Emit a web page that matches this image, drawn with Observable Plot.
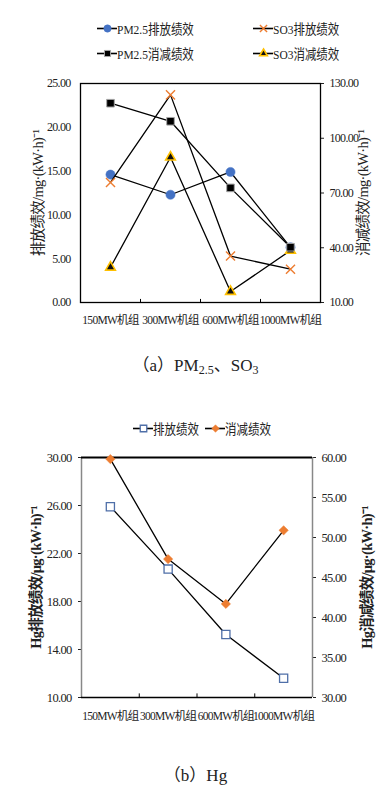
<!DOCTYPE html>
<html>
<head>
<meta charset="utf-8">
<script src="https://cdn.jsdelivr.net/npm/d3@7"></script>
<script src="https://cdn.jsdelivr.net/npm/@observablehq/plot@0.6"></script>
<style>
  html, body { margin: 0; padding: 0; background: #fff; }
  body { width: 391px; height: 802px; position: relative; overflow: hidden;
         font-family: "Liberation Serif", "Noto Sans CJK SC", serif; color: #222; }
  .abs { position: absolute; }
  .leg { position: absolute; display: flex; align-items: center; font-size: 13.5px; white-space: nowrap; }
  .leg span { display: inline-block; transform: scaleX(0.85); transform-origin: left center; }
  .cap { position: absolute; width: 391px; text-align: center; font-size: 17px; }
  .cap sub { font-size: 12px; vertical-align: -3px; }
</style>
</head>
<body>
<div id="legA1" class="leg" style="left:97px; top:18px;"></div>
<div id="legA2" class="leg" style="left:253px; top:18px;"></div>
<div id="legA3" class="leg" style="left:97px; top:43px;"></div>
<div id="legA4" class="leg" style="left:253px; top:43px;"></div>
<div id="chartA" class="abs" style="left:0; top:60px;"></div>
<div class="cap" style="top:351px;">（a）PM<sub>2.5</sub>、SO<sub>3</sub></div>
<div id="legB1" class="leg" style="left:133px; top:418px;"></div>
<div id="legB2" class="leg" style="left:205px; top:418px;"></div>
<div id="chartB" class="abs" style="left:0; top:430px;"></div>
<div class="cap" style="top:761px;">（b）Hg</div>
<script>
// ---------- data ----------
const categories = ["150MW机组", "300MW机组", "600MW机组", "1000MW机组"];

// chart (a) — left axis: 排放绩效 (mg/(kW·h)), right axis: 消减绩效
const pm25Emission  = [14.6, 12.3, 14.9, 6.3];
const so3Emission   = [13.7, 23.7, 5.3, 3.8];
const pm25Reduction = [119.2, 109.3, 72.8, 40.3];
const so3Reduction  = [29.3, 89.6, 16.0, 38.5];
const leftTicksA  = [0, 5, 10, 15, 20, 25];
const rightTicksA = [10, 40, 70, 100, 130];

// chart (b) — Hg
const hgEmission  = [25.9, 20.7, 15.25, 11.6];
const hgReduction = [59.8, 47.3, 41.7, 50.9];
const leftTicksB  = [10, 14, 18, 22, 26, 30];
const rightTicksB = [30, 35, 40, 45, 50, 55, 60];

const legendA = ["PM2.5排放绩效", "SO3排放绩效", "PM2.5消减绩效", "SO3消减绩效"];
const legendB = ["排放绩效", "消减绩效"];
const titlesA = ["排放绩效/mg·(kW·h)⁻¹", "消减绩效/mg·(kW·h)⁻¹"];
const titlesB = ["Hg排放绩效/μg·(kW·h)⁻¹", "Hg消减绩效/μg·(kW·h)⁻¹"];

// ---------- helpers ----------
const FONT = '"Liberation Serif", "Noto Sans CJK SC", serif';
const toRows = (vals, map = v => v) => vals.map((v, i) => ({x: i + 0.5, y: map(v)}));

const styles = {
  pm25E: {symbol: "circle", r: 4.6, fill: "#4472C4", stroke: "#4472C4", strokeWidth: 0.5},
  so3E:  {symbol: "times", r: 4.2, fill: "none", stroke: "#ED7D31", strokeWidth: 1.4},
  pm25R: {symbol: "square", r: 4.3, fill: "#000", stroke: "#A5A5A5", strokeWidth: 1},
  so3R:  {symbol: "triangle", r: 3.6, fill: "#111", stroke: "#FFC000", strokeWidth: 1.6},
  hgE:   {symbol: "square", r: 4.6, fill: "#fff", stroke: "#4F6FA8", strokeWidth: 1.3},
  hgR:   {symbol: "diamond2", r: 4.2, fill: "#ED7D31", stroke: "#ED7D31", strokeWidth: 0.5}
};

function legendItem(el, label, st) {
  const svg = Plot.plot({
    width: 20, height: 12, margin: 0,
    x: {domain: [0, 20], axis: null}, y: {domain: [0, 12], axis: null},
    marks: [
      Plot.ruleY([6], {x1: 0, x2: 20, stroke: "#000", strokeWidth: 1.6}),
      Plot.dot([{x: 10, y: 6}], {x: "x", y: "y", ...st, r: st.r * 0.8})
    ]
  });
  svg.style.overflow = "visible";
  const sp = document.createElement("span");
  sp.textContent = label;
  el.append(svg, sp);
}

legendItem(document.getElementById("legA1"), legendA[0], styles.pm25E);
legendItem(document.getElementById("legA2"), legendA[1], styles.so3E);
legendItem(document.getElementById("legA3"), legendA[2], styles.pm25R);
legendItem(document.getElementById("legA4"), legendA[3], styles.so3R);
legendItem(document.getElementById("legB1"), legendB[0], styles.hgE);
legendItem(document.getElementById("legB2"), legendB[1], styles.hgR);

function series(rows, st) {
  return [
    Plot.line(rows, {x: "x", y: "y", stroke: "#000", strokeWidth: 1.3}),
    Plot.dot(rows, {x: "x", y: "y", ...st})
  ];
}

const baseStyle = {fontFamily: FONT, fontSize: "12px", color: "#222", background: "transparent",
                   overflow: "visible", letterSpacing: "-0.7px"};

// ---------- chart (a) ----------
{
  const [lo, hi] = [10, 130], [L0, L1] = [0, 25];
  const toLeft = v => L0 + (v - lo) / (hi - lo) * (L1 - L0);
  const fromLeft = d => lo + (d - L0) / (L1 - L0) * (hi - lo);
  const chart = Plot.plot({
    width: 391, height: 280,
    marginTop: 23, marginBottom: 38, marginLeft: 80, marginRight: 71,
    style: baseStyle,
    x: {domain: [0, 4], axis: null},
    y: {domain: [L0, L1], axis: null},
    marks: [
      Plot.axisY(leftTicksA, {anchor: "left", tickSize: 0, tickPadding: 10, tickFormat: d => d.toFixed(2), label: null}),
      Plot.axisY(rightTicksA.map(toLeft), {anchor: "right", tickSize: 3, tickPadding: 6,
        tickFormat: d => fromLeft(d).toFixed(2), label: null}),
      Plot.axisX([0.5, 1.5, 2.5, 3.5], {anchor: "bottom", tickSize: 0, tickPadding: 13,
        tickFormat: d => categories[Math.floor(d)], label: null, fontSize: 11.5}),
      Plot.ruleX([1, 2, 3], {y1: 0, y2: 0.35, stroke: "#000", strokeWidth: 1}),
      Plot.frame({stroke: "#000", strokeWidth: 1.3}),
      Plot.text([titlesA[0]], {text: d => d, frameAnchor: "left", textAnchor: "middle", lineAnchor: "middle",
        rotate: -90, dx: -42, fontSize: 14.5}),
      Plot.text([titlesA[1]], {text: d => d, frameAnchor: "right", textAnchor: "middle", lineAnchor: "middle",
        rotate: -90, dx: 43, fontSize: 14.5}),
      ...series(toRows(pm25Emission), styles.pm25E),
      ...series(toRows(so3Emission), styles.so3E),
      ...series(toRows(so3Reduction, toLeft), styles.so3R),
      ...series(toRows(pm25Reduction, toLeft), styles.pm25R)
    ]
  });
  document.getElementById("chartA").append(chart);
}

// ---------- chart (b) ----------
{
  const [lo, hi] = [30, 60], [L0, L1] = [10, 30];
  const toLeft = v => L0 + (v - lo) / (hi - lo) * (L1 - L0);
  const fromLeft = d => lo + (d - L0) / (L1 - L0) * (hi - lo);
  const chart = Plot.plot({
    width: 391, height: 300,
    marginTop: 27, marginBottom: 33, marginLeft: 81, marginRight: 79,
    style: {...baseStyle, fontSize: "12.5px"},
    x: {domain: [0, 4], axis: null},
    y: {domain: [L0, L1], axis: null},
    marks: [
      Plot.axisY(leftTicksB, {anchor: "left", tickSize: 3, tickPadding: 7, tickFormat: d => d.toFixed(2), label: null}),
      Plot.axisY(rightTicksB.map(toLeft), {anchor: "right", tickSize: 3, tickPadding: 6,
        tickFormat: d => fromLeft(d).toFixed(2), label: null}),
      Plot.axisX([0.5, 1.5, 2.5, 3.5], {anchor: "bottom", tickSize: 0, tickPadding: 14,
        tickFormat: d => categories[Math.floor(d)], label: null, fontSize: 11.5}),
      Plot.ruleX([1, 2, 3], {y1: L0, y2: L0 + 0.3, stroke: "#000", strokeWidth: 1}),
      Plot.ruleX([0, 4], {stroke: "#888", strokeWidth: 1.5}),
      Plot.ruleY([L0], {stroke: "#000", strokeWidth: 1.3}),
      Plot.ruleY([L1], {stroke: "#000", strokeWidth: 2.2}),
      Plot.text([titlesB[0]], {text: d => d, frameAnchor: "left", textAnchor: "middle", lineAnchor: "middle",
        rotate: -90, dx: -45, fontSize: 14.5, fontWeight: "bold"}),
      Plot.text([titlesB[1]], {text: d => d, frameAnchor: "right", textAnchor: "middle", lineAnchor: "middle",
        rotate: -90, dx: 55, fontSize: 14.5, fontWeight: "bold"}),
      ...series(toRows(hgEmission), styles.hgE),
      ...series(toRows(hgReduction, toLeft), styles.hgR)
    ]
  });
  document.getElementById("chartB").append(chart);
}
</script>
</body>
</html>
